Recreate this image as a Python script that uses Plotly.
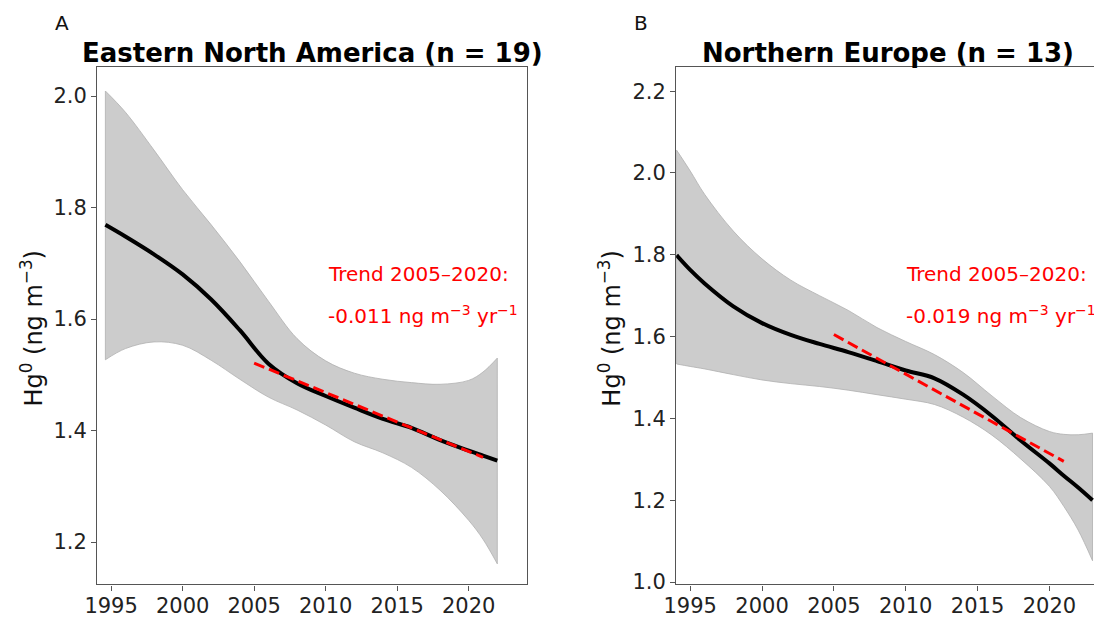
import plotly.graph_objects as go

# The page body has an 8 px margin, so the figure is drawn 8 px smaller
# and all reference-pixel positions are shifted by that offset.
OFF = 8
W, H = 1102 - OFF, 623 - OFF

# ---------------- data ----------------
ena_years = [1994.6, 1996, 1998, 2000, 2002, 2004, 2006, 2008, 2010, 2012, 2014, 2016, 2018, 2020, 2021, 2022]
ena_mean = [1.769, 1.748, 1.716, 1.680, 1.635, 1.580, 1.520, 1.485, 1.462, 1.441, 1.421, 1.405, 1.383, 1.364, 1.355, 1.346]
ena_upper = [2.009, 1.971, 1.903, 1.832, 1.769, 1.703, 1.632, 1.565, 1.525, 1.503, 1.492, 1.486, 1.483, 1.490, 1.505, 1.530]
ena_lower = [1.527, 1.547, 1.559, 1.553, 1.526, 1.492, 1.460, 1.437, 1.410, 1.380, 1.360, 1.334, 1.293, 1.239, 1.205, 1.161]

neu_years = [1994.05, 1995, 1996, 1998, 2000, 2002, 2004, 2006, 2008, 2010, 2012, 2014, 2016, 2018, 2020, 2021, 2022, 2023]
neu_mean = [1.799, 1.763, 1.730, 1.674, 1.633, 1.604, 1.582, 1.562, 1.540, 1.517, 1.498, 1.458, 1.406, 1.346, 1.290, 1.260, 1.231, 1.200]
neu_upper = [2.056, 2.005, 1.948, 1.858, 1.790, 1.738, 1.700, 1.664, 1.622, 1.588, 1.556, 1.512, 1.455, 1.402, 1.368, 1.361, 1.360, 1.364]
neu_lower = [1.533, 1.527, 1.521, 1.507, 1.494, 1.485, 1.478, 1.469, 1.458, 1.447, 1.434, 1.403, 1.359, 1.301, 1.234, 1.185, 1.127, 1.052]

trend_years = [2005, 2021]
ena_trend = [1.521, 1.352]
neu_trend = [1.605, 1.295]

x_ticks = [1995, 2000, 2005, 2010, 2015, 2020]
ena_yticks = [1.2, 1.4, 1.6, 1.8, 2.0]
neu_yticks = [1.0, 1.2, 1.4, 1.6, 1.8, 2.0, 2.2]

titles = ["Eastern North America (n = 19)", "Northern Europe (n = 13)"]
panel_letters = ["A", "B"]
trend_line1 = "Trend 2005\u20132020:"
trend_vals = ["-0.011 ng m<sup>\u22123</sup> yr<sup>\u22121</sup>",
              "-0.019 ng m<sup>\u22123</sup> yr<sup>\u22121</sup>"]
ylabel = "Hg<sup>0</sup> (ng m<sup>\u22123</sup>)"

FONT = "DejaVu Sans"
FILL = "#cccccc"
EDGE = "#b0b0b0"
AXC = "#555555"


def px(x):
    return (x - OFF) / W


def py(y):
    return 1 - (y - OFF) / H


fig = go.Figure()


def add_panel(years, mean, upper, lower, trend, xa, ya):
    fig.add_trace(go.Scatter(x=years, y=lower, mode="lines", line=dict(color=EDGE, width=0.8, shape="spline"),
                             xaxis=xa, yaxis=ya, showlegend=False, hoverinfo="skip"))
    fig.add_trace(go.Scatter(x=years, y=upper, mode="lines", line=dict(color=EDGE, width=0.8, shape="spline"),
                             fill="tonexty", fillcolor=FILL, xaxis=xa, yaxis=ya, showlegend=False,
                             hoverinfo="skip"))
    fig.add_trace(go.Scatter(x=[years[0], years[0], None, years[-1], years[-1]],
                             y=[lower[0], upper[0], None, lower[-1], upper[-1]],
                             mode="lines", line=dict(color=EDGE, width=0.8), xaxis=xa, yaxis=ya,
                             showlegend=False, hoverinfo="skip"))
    fig.add_trace(go.Scatter(x=years, y=mean, mode="lines", line=dict(color="black", width=4, shape="spline"),
                             xaxis=xa, yaxis=ya, showlegend=False))
    fig.add_trace(go.Scatter(x=trend_years, y=trend, mode="lines",
                             line=dict(color="#ff0000", width=3, dash="11px,5px"),
                             xaxis=xa, yaxis=ya, showlegend=False))


add_panel(ena_years, ena_mean, ena_upper, ena_lower, ena_trend, "x", "y")
add_panel(neu_years, neu_mean, neu_upper, neu_lower, neu_trend, "x2", "y2")

ydom = [py(594), py(68)]
axis_common = dict(showgrid=False, zeroline=False, showline=True, linecolor=AXC, linewidth=1.2,
                   ticks="outside", ticklen=5, tickwidth=1.2, tickcolor=AXC,
                   tickfont=dict(family=FONT, size=21, color="#222222"))

fig.update_layout(
    width=W, height=H,
    margin=dict(l=0, r=0, t=0, b=0),
    paper_bgcolor="white", plot_bgcolor="white",
    showlegend=False,
    xaxis=dict(domain=[px(85), px(520)], range=[1994.02, 2024.07], tickvals=x_ticks, mirror=True,
               anchor="y", ticklabelstandoff=-3, **axis_common),
    yaxis=dict(domain=ydom, range=[1.124, 2.052], tickvals=ena_yticks, tickformat=".1f", mirror=True,
               anchor="x", **axis_common),
    xaxis2=dict(domain=[px(671), 1.0], range=[1994.02, 2023.66], tickvals=x_ticks, mirror=True,
                anchor="y2", ticklabelstandoff=-3, **axis_common),
    yaxis2=dict(domain=ydom, range=[0.994, 2.259], tickvals=neu_yticks, tickformat=".1f", mirror=False,
                anchor="x2", **axis_common),
)

ann = []
title_x = [302.5, 885]
letter_x = [49, 635]
ylab_x = [19, 604]
trend_x = [317, 902]
for i in range(2):
    ann.append(dict(text="<b>" + titles[i] + "</b>", x=px(title_x[i]), y=py(54), xref="paper", yref="paper",
                    xanchor="center", yanchor="middle", showarrow=False,
                    font=dict(family=FONT, size=26, color="black")))
    ann.append(dict(text=panel_letters[i], x=px(letter_x[i]), y=py(23), xref="paper", yref="paper",
                    xanchor="center", yanchor="middle", showarrow=False,
                    font=dict(family=FONT, size=20, color="#111111")))
    ann.append(dict(text=ylabel, x=px(ylab_x[i]), y=py(333), xref="paper", yref="paper",
                    xanchor="center", yanchor="middle", textangle=-90, showarrow=False,
                    font=dict(family=FONT, size=24, color="#111111")))
    ann.append(dict(text=trend_line1, x=px(trend_x[i]), y=py(278), xref="paper", yref="paper",
                    xanchor="left", yanchor="middle", showarrow=False,
                    font=dict(family=FONT, size=20, color="#ff0000")))
    ann.append(dict(text=trend_vals[i], x=px(trend_x[i]), y=py(320), xref="paper", yref="paper",
                    xanchor="left", yanchor="middle", showarrow=False,
                    font=dict(family=FONT, size=20, color="#ff0000")))
fig.update_layout(annotations=ann)

fig.write_html("out.html")
